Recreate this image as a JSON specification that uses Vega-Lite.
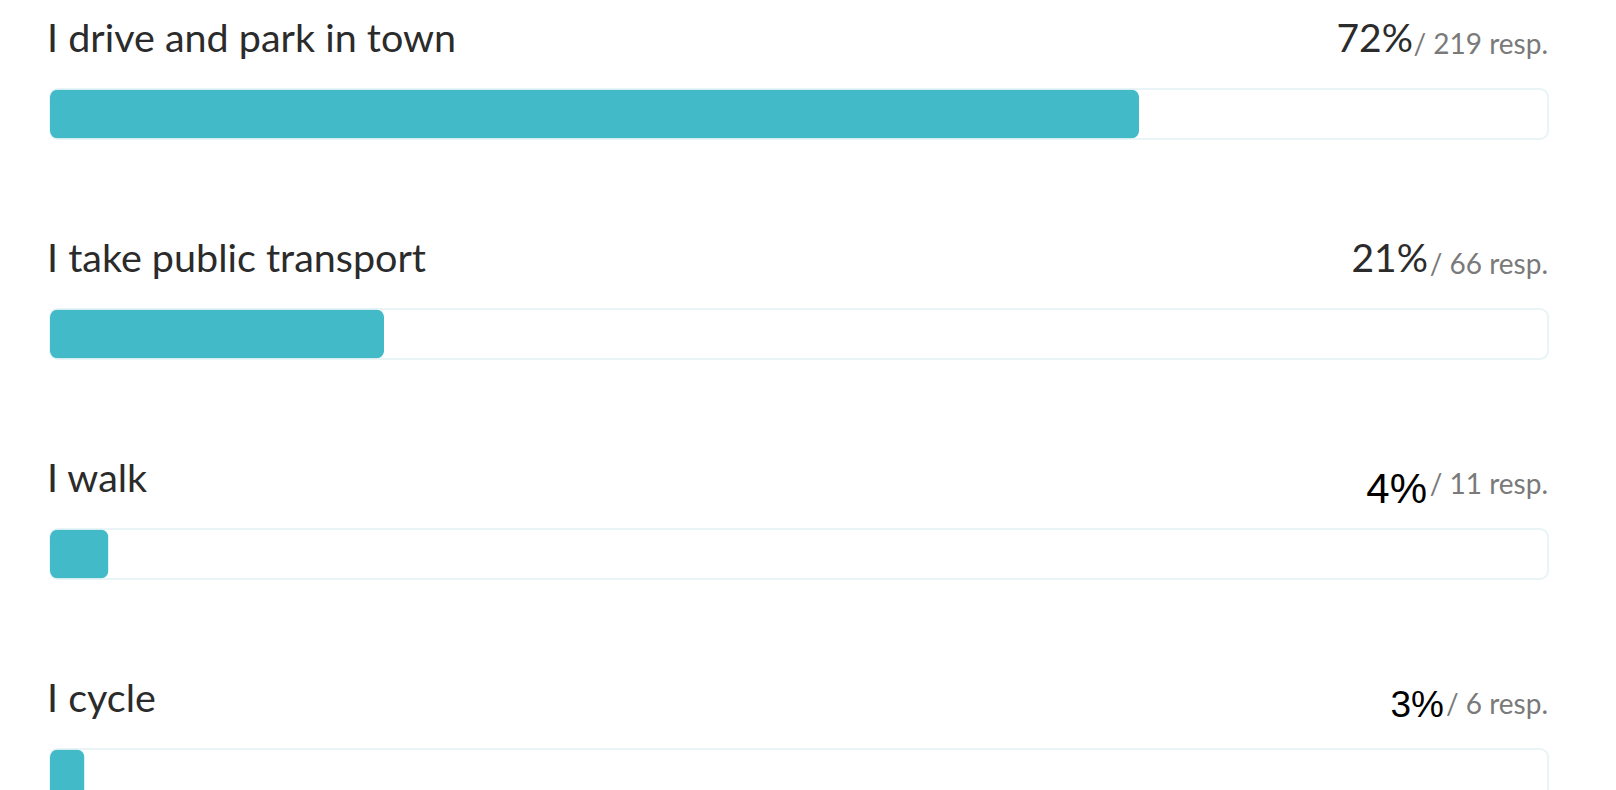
{
  "$schema": "https://vega.github.io/schema/vega-lite/v6.json",
  "width": 1498,
  "height": 880,
  "padding": {"left": 50, "right": 68, "top": 0, "bottom": 0},
  "autosize": {"type": "none"},
  "background": "white",
  "config": {"view": {"stroke": null}},
  "data": {
    "values": [
      {"option": "I drive and park in town", "share": 72.7, "pct": "72%", "resp": "/ 219 resp."},
      {"option": "I take public transport", "share": 22.3, "pct": "21%", "resp": "/ 66 resp."},
      {"option": "I walk", "share": 3.9, "pct": "4%", "resp": "/ 11 resp."},
      {"option": "I cycle", "share": 2.3, "pct": "3%", "resp": "/ 6 resp."}
    ]
  },
  "encoding": {
    "y": {
      "field": "option",
      "type": "nominal",
      "sort": null,
      "axis": null,
      "scale": {"paddingInner": 0, "paddingOuter": 0}
    }
  },
  "layer": [
    {
      "mark": {"type": "bar", "height": 50, "yOffset": 4, "fill": "white", "stroke": "#e8f4f5", "strokeWidth": 2, "cornerRadius": 8},
      "encoding": {
        "x": {"datum": 100, "type": "quantitative", "scale": {"domain": [0, 100], "nice": false, "zero": true}, "axis": null}
      }
    },
    {
      "mark": {"type": "bar", "height": 49, "yOffset": 4, "color": "#42bac8", "cornerRadius": 8},
      "encoding": {
        "x": {"field": "share", "type": "quantitative", "scale": {"domain": [0, 100], "nice": false}, "axis": null}
      }
    },
    {
      "mark": {"type": "text", "align": "left", "baseline": "alphabetic", "dy": -58, "dx": -3, "font": "Lato", "fontSize": 39.5, "color": "#2b2b2b"},
      "encoding": {
        "x": {"datum": 0, "type": "quantitative"},
        "text": {"field": "option"}
      }
    },
    {
      "mark": {"type": "text", "align": "right", "baseline": "alphabetic", "dy": -56, "font": "Lato", "fontSize": 28, "color": "#7a7a7a"},
      "encoding": {
        "x": {"datum": 100, "type": "quantitative"},
        "text": {"field": "resp"}
      }
    },
    {
      "transform": [{"filter": "datum.option === 'I drive and park in town'"}],
      "mark": {"type": "text", "align": "right", "baseline": "alphabetic", "dy": -58, "dx": -135, "font": "Lato", "fontSize": 39, "color": "#2b2b2b"},
      "encoding": {
        "x": {"datum": 100, "type": "quantitative"},
        "text": {"field": "pct"}
      }
    },
    {
      "transform": [{"filter": "datum.option === 'I take public transport'"}],
      "mark": {"type": "text", "align": "right", "baseline": "alphabetic", "dy": -58, "dx": -120, "font": "Lato", "fontSize": 39, "color": "#2b2b2b"},
      "encoding": {
        "x": {"datum": 100, "type": "quantitative"},
        "text": {"field": "pct"}
      }
    },
    {
      "transform": [{"filter": "datum.option === 'I walk'"}],
      "mark": {"type": "text", "align": "right", "baseline": "alphabetic", "dy": -47, "dx": -121, "font": "Liberation Sans", "fontSize": 42, "color": "#000000"},
      "encoding": {
        "x": {"datum": 100, "type": "quantitative"},
        "text": {"field": "pct"}
      }
    },
    {
      "transform": [{"filter": "datum.option === 'I cycle'"}],
      "mark": {"type": "text", "align": "right", "baseline": "alphabetic", "dy": -53, "dx": -104, "font": "Liberation Sans", "fontSize": 37, "color": "#000000"},
      "encoding": {
        "x": {"datum": 100, "type": "quantitative"},
        "text": {"field": "pct"}
      }
    }
  ]
}
